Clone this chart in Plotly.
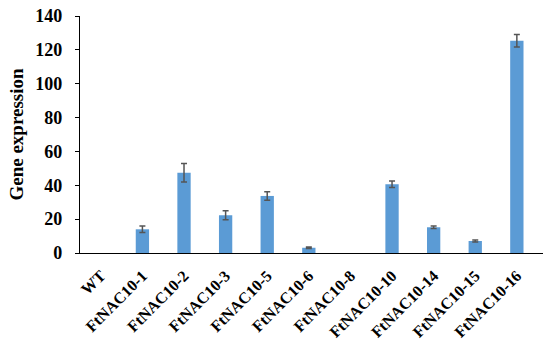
import plotly.graph_objects as go

categories = ["WT", "FtNAC10-1", "FtNAC10-2", "FtNAC10-3", "FtNAC10-5", "FtNAC10-6",
              "FtNAC10-8", "FtNAC10-10", "FtNAC10-14", "FtNAC10-15", "FtNAC10-16"]
values = [0, 14.0, 47.4, 22.3, 33.7, 3.1, 0, 40.6, 15.2, 7.1, 125.4]
errors = [0, 1.9, 5.5, 2.6, 2.5, 0.4, 0, 1.9, 0.8, 0.6, 3.7]
y_ticks = [0, 20, 40, 60, 80, 100, 120, 140]

font_family = "Liberation Serif"

fig = go.Figure(go.Bar(
    x=categories, y=values,
    marker=dict(color="#5B9BD5", line=dict(width=0)),
))

# error bars only where there is a measurable error
eb_idx = [i for i, e in enumerate(errors) if e > 0]
fig.add_trace(go.Scatter(
    x=[categories[i] for i in eb_idx],
    y=[values[i] for i in eb_idx],
    mode="markers", marker=dict(size=0.1, opacity=0),
    error_y=dict(type="data", array=[errors[i] for i in eb_idx], visible=True,
                 color="#555555", thickness=1.5, width=3),
    hoverinfo="skip",
))

fig.update_layout(
    width=550, height=351,
    margin=dict(l=80, r=7, t=16, b=98),
    plot_bgcolor="white", paper_bgcolor="white",
    bargap=0.68,
    showlegend=False,
    font=dict(family=font_family, color="black"),
)
fig.update_yaxes(
    range=[0, 140], tickvals=y_ticks, showgrid=False,
    showline=True, linecolor="black", linewidth=1.3,
    ticks="outside", ticklen=4, tickcolor="black",
    tickfont=dict(family=font_family, size=18, color="black", weight="bold"),
    ticklabelstandoff=9,
    title=dict(text="<b>Gene expression</b>", font=dict(family=font_family, size=19, color="black"), standoff=6),
    zeroline=False, automargin=False,
)
fig.update_xaxes(
    showline=True, linecolor="black", linewidth=1.3,
    tickangle=-45, ticks="",
    tickfont=dict(family=font_family, size=16, color="black", weight="bold"),
    ticklabelstandoff=6,
    showgrid=False, automargin=False,
)

fig.write_html("out.html", config={"displayModeBar": False},
               post_script="document.body.style.margin='0';")
